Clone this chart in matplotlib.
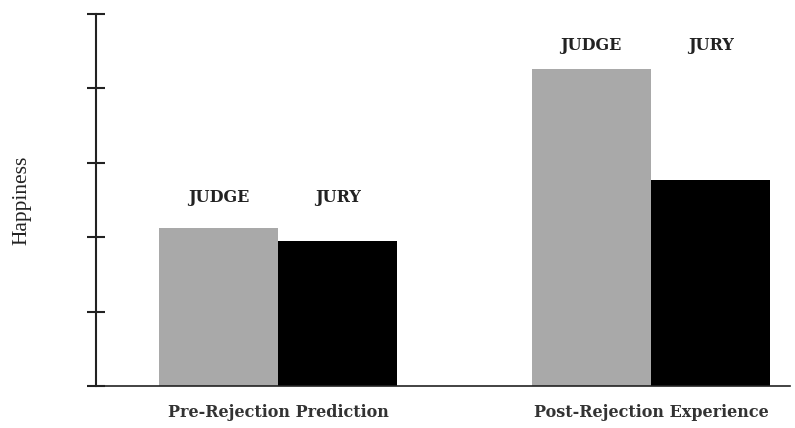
import numpy as np
import matplotlib
matplotlib.use("Agg")
import matplotlib.pyplot as plt

# Data
conditions = ["Pre-Rejection Prediction", "Post-Rejection Experience"]
groups = ["JUDGE", "JURY"]
judge_vals = [2.12, 4.26]
jury_vals = [1.95, 2.77]

gray = "#a9a9a9"
bar_w = 0.32

fig = plt.figure(figsize=(7.95, 4.28), dpi=100)
ax = fig.add_axes([0.1208, 0.0981, 0.8729, 0.8692])

x = np.arange(len(conditions))
ax.bar(x - bar_w / 2, judge_vals, width=bar_w, color=gray, linewidth=0)
ax.bar(x + bar_w / 2, jury_vals, width=bar_w, color="black", linewidth=0)

# small-caps style labels above each pair of bars
for i in range(len(conditions)):
    top = max(judge_vals[i], jury_vals[i])
    if i == 0:
        ypos = top + 0.42
    else:
        ypos = top + 0.32
    ax.text(x[i] - bar_w / 2, ypos, groups[0], ha="center", va="center",
            family="DejaVu Serif", fontweight="bold", fontsize=11.5, color="#222222")
    ax.text(x[i] + bar_w / 2, ypos, groups[1], ha="center", va="center",
            family="DejaVu Serif", fontweight="bold", fontsize=11.5, color="#222222")

ax.set_xlim(-0.488, 1.373)
ax.set_ylim(0, 5)
ax.set_yticks(np.arange(0, 6, 1))
ax.set_yticklabels([])
ax.tick_params(axis="y", direction="inout", length=13, width=1.5, color="#222222")
ax.set_xticks(x)
ax.set_xticklabels(conditions, family="DejaVu Serif", fontweight="bold", fontsize=11.5,
                   color="#333333")
ax.tick_params(axis="x", length=0, pad=13)

for s in ["top", "right"]:
    ax.spines[s].set_visible(False)
ax.spines["left"].set_linewidth(1.5)
ax.spines["bottom"].set_linewidth(1.2)
ax.spines["left"].set_color("#222222")
ax.spines["bottom"].set_color("#222222")

fig.text(0.028, 0.533, "Happiness", rotation=90, ha="center", va="center",
         family="Liberation Serif", fontsize=15.5, color="#222222")

fig.savefig("out.png", dpi=100)
